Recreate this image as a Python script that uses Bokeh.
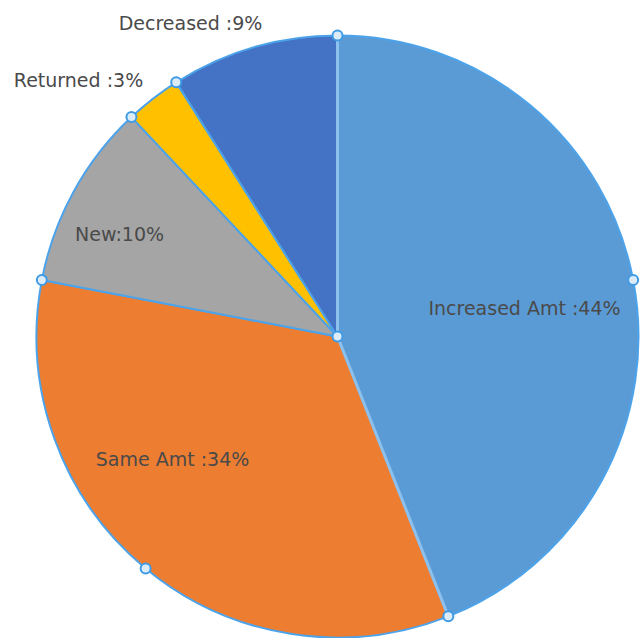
import math
from bokeh.plotting import figure
from bokeh.models import ColumnDataSource
from bokeh.core.properties import value
from bokeh.embed import file_html
from bokeh.resources import INLINE

# ---- data ----
categories = ["Increased Amt", "Same Amt", "New", "Returned", "Decreased"]
percents = [44, 34, 10, 3, 9]
label_texts = ["Increased Amt :44%", "Same Amt :34%", "New:10%", "Returned :3%", "Decreased :9%"]

# ---- styles / layout ----
colors = ["#5B9BD5", "#ED7D31", "#A5A5A5", "#FFC000", "#4472C4"]
W, H = 640, 638
OFFX, OFFY = 0, 0
def px(x):
    return x - OFFX
def py(y):
    return H - (y - OFFY)

cx, cy, R = px(337), py(336), 301
label_pos = [(524, 307), (172, 458), (119, 233), (78, 79), (190, 22)]

total = float(sum(percents))
cum = [0.0]
for v in percents:
    cum.append(cum[-1] + v / total)
starts = [math.pi / 2 - 2 * math.pi * cum[i] for i in range(len(percents))]
ends = [math.pi / 2 - 2 * math.pi * cum[i + 1] for i in range(len(percents))]

p = figure(width=W, height=H, x_range=(0, W), y_range=(0, H),
           output_backend="svg", toolbar_location=None, min_border=0)
p.axis.visible = False
p.grid.visible = False
p.outline_line_color = None
p.background_fill_color = "white"
p.border_fill_color = "white"

src = ColumnDataSource(dict(start=starts, end=ends, color=colors, cat=categories))
p.wedge(x=cx, y=cy, radius=R, start_angle="start", end_angle="end", direction="clock",
        fill_color="color", line_color="#4DA3EA", line_width=2, source=src)

# lighter edges of the selected slice
for a in (starts[0], ends[0]):
    p.line([cx, cx + R * math.cos(a)], [cy, cy + R * math.sin(a)],
           line_color="#8CC1EE", line_width=3)

# selection handles
hx, hy = [cx], [cy]
for c in cum[:-1]:
    a = math.pi / 2 - 2 * math.pi * c
    hx.append(cx + R * math.cos(a)); hy.append(cy + R * math.sin(a))
for i in (0, 1):
    a = (starts[i] + ends[i]) / 2
    hx.append(cx + R * math.cos(a)); hy.append(cy + R * math.sin(a))
p.scatter(hx, hy, size=10, fill_color="#DCEBF8", line_color="#3F9BE6", line_width=2)

lsrc = ColumnDataSource(dict(x=[px(a) for a, b in label_pos], y=[py(b) for a, b in label_pos],
                             t=label_texts))
p.text(x="x", y="y", text="t", source=lsrc, text_font=value("DejaVu Sans"),
       text_font_size="19px", text_color="#4A4A4A", text_align="center",
       text_baseline="middle")

open("out.html", "w").write(file_html(p, INLINE))
